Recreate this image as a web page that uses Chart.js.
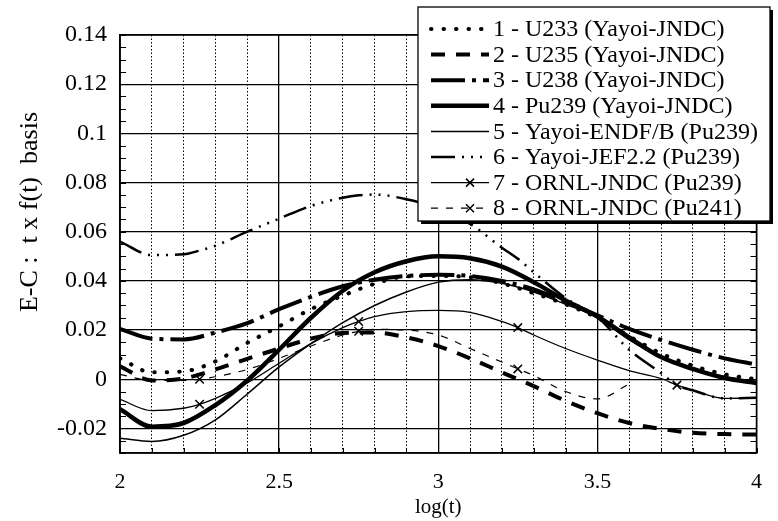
<!DOCTYPE html>
<html>
<head>
<meta charset="utf-8">
<script src="https://cdn.jsdelivr.net/npm/chart.js@4.4.1/dist/chart.umd.min.js"></script>
<style>
  html, body { margin: 0; padding: 0; background: #fff; }
  canvas { display: block; }
</style>
</head>
<body>
<canvas id="chart" width="778" height="521"></canvas>
<script>
// E-C (t x f(t) basis) vs log(t)

const FONT = "'Liberation Serif', 'Times New Roman', serif";

const X = [2.0, 2.1, 2.2, 2.3, 2.4, 2.5, 2.6, 2.7, 2.8, 2.9, 3.0,
           3.1, 3.2, 3.3, 3.4, 3.5, 3.6, 3.7, 3.8, 3.9, 4.0];
// finer grid for the curves that carry markers
const X_MARK = [2.0, 2.1, 2.2, 2.25, 2.3, 2.4, 2.5, 2.6, 2.7, 2.75, 2.8, 2.9, 3.0,
                3.1, 3.2, 3.25, 3.3, 3.4, 3.5, 3.6, 3.7, 3.75, 3.8, 3.9, 4.0];
const MARKS = [2.25, 2.75, 3.25, 3.75];

const LABELS = [
    '1 - U233 (Yayoi-JNDC)',
    '2 - U235 (Yayoi-JNDC)',
    '3 - U238 (Yayoi-JNDC)',
    '4 - Pu239 (Yayoi-JNDC)',
    '5 - Yayoi-ENDF/B (Pu239)',
    '6 - Yayoi-JEF2.2 (Pu239)',
    '7 - ORNL-JNDC (Pu239)',
    '8 - ORNL-JNDC (Pu241)'
];

const U233 = [0.0085, 0.0028, 0.0032, 0.0073, 0.0148, 0.0215, 0.0285, 0.034, 0.0388, 0.0418, 0.042,
              0.0415, 0.039, 0.035, 0.0305, 0.025, 0.0175, 0.0105, 0.0055, 0.002, 0.0];
const U235 = [0.0053, -0.0005, 0.0003, 0.004, 0.0083, 0.0125, 0.0165, 0.0188, 0.019, 0.017, 0.0135,
              0.0085, 0.0028, -0.0028, -0.0088, -0.0138, -0.0178, -0.0202, -0.0218, -0.0223, -0.0225];
const U238 = [0.0205, 0.0165, 0.0162, 0.019, 0.0228, 0.0285, 0.0335, 0.0378, 0.0405, 0.042, 0.0425,
              0.042, 0.04, 0.0365, 0.0315, 0.026, 0.0205, 0.016, 0.012, 0.0085, 0.006];
const PU239 = [-0.0122, -0.0193, -0.0178, -0.0105, -0.0005, 0.012, 0.025, 0.036, 0.0435, 0.048, 0.05,
               0.0492, 0.0458, 0.0395, 0.032, 0.0255, 0.017, 0.009, 0.0042, 0.0005, -0.0015];
const ENDF = [-0.024, -0.0253, -0.0228, -0.0165, -0.006, 0.005, 0.0145, 0.023, 0.03, 0.0355, 0.0395,
              0.0405, 0.039, 0.0355, 0.0305, 0.025, 0.016, 0.009, 0.0045, 0.001, -0.001];
// on X_MARK
const JEF = [0.056, 0.0505, 0.0508, 0.0523, 0.0543, 0.06, 0.0653, 0.0705, 0.0738, 0.0748, 0.0751, 0.0732, 0.0695,
             0.0632, 0.0535, 0.049, 0.0435, 0.033, 0.0253, 0.012, 0.0025, -0.0024, -0.0045, -0.0078, -0.0075];
const ORNL239 = [-0.0082, -0.0128, -0.0118, -0.0102, -0.0078, -0.0015, 0.0065, 0.0145, 0.021, 0.0235, 0.0255, 0.0275, 0.028,
                 0.0272, 0.0235, 0.021, 0.018, 0.0125, 0.0078, 0.0035, 0.0003, -0.0024, -0.0045, -0.0078, -0.0075];
const ORNL241 = [0.002, -0.0005, -0.0005, 0.0, 0.001, 0.004, 0.0085, 0.0135, 0.018, 0.0195, 0.0203, 0.02, 0.018,
                 0.0125, 0.007, 0.0042, 0.0015, -0.005, -0.008, -0.002, null, null, null, null, null];

const Y_MIN = -0.03, Y_MAX = 0.14;

const pts = (xs, ys) => xs.map((x, i) => ({ x: x, y: ys[i] }));
const near = (a, b) => Math.abs(a - b) < 1e-6;
const isMajorX = v => near(v * 2, Math.round(v * 2));
const isMajorY = v => near(v / 0.02, Math.round(v / 0.02));
const markRadius = ctx => (ctx.raw && MARKS.some(m => near(m, ctx.raw.x))) ? 6 : 0;

function line(label, data, width, dash, extra) {
    return Object.assign({
        label: label,
        data: data,
        borderColor: '#000',
        backgroundColor: '#000',
        borderWidth: width,
        borderDash: dash,
        borderCapStyle: 'butt',
        cubicInterpolationMode: 'monotone',
        pointRadius: 0,
        fill: false,
        spanGaps: false
    }, extra || {});
}

const datasets = [
    line(LABELS[0], pts(X, U233), 4, [0.5, 12], { borderCapStyle: 'round' }),
    line(LABELS[1], pts(X, U235), 4, [14, 11]),
    line(LABELS[2], pts(X, U238), 4, [34, 7, 4, 7]),
    line(LABELS[3], pts(X, PU239), 4.5, []),
    line(LABELS[4], pts(X, ENDF), 1.5, []),
    line(LABELS[5], pts(X_MARK, JEF), 2.5, [24, 7, 2, 7, 2, 7, 2, 7]),
    line(LABELS[6], pts(X_MARK, ORNL239), 1.3, [], {
        pointStyle: 'crossRot', pointRadius: markRadius, pointBorderWidth: 1.5, pointBorderColor: '#000'
    }),
    line(LABELS[7], pts(X_MARK, ORNL241), 1.2, [7, 8], {
        pointStyle: 'crossRot', pointRadius: markRadius, pointBorderWidth: 1.5, pointBorderColor: '#000'
    })
];

// inner minor ticks + frame
const decorPlugin = {
    id: 'decor',
    afterDatasetsDraw(chart) {
        const { ctx, chartArea: a, scales: { x, y } } = chart;
        ctx.save();
        ctx.strokeStyle = '#000';
        ctx.lineWidth = 1;
        ctx.beginPath();
        y.ticks.forEach(t => {
            const py = Math.round(y.getPixelForValue(t.value)) + 0.5;
            ctx.moveTo(a.left, py); ctx.lineTo(a.left + 6, py);
            ctx.moveTo(a.right - 6, py); ctx.lineTo(a.right, py);
        });
        x.ticks.forEach(t => {
            const px = Math.round(x.getPixelForValue(t.value)) + 0.5;
            ctx.moveTo(px, a.bottom); ctx.lineTo(px, a.bottom - 5);
        });
        ctx.stroke();
        ctx.lineWidth = 1.5;
        ctx.strokeRect(a.left, a.top, a.width, a.height);

        // y axis title, placed like the original
        ctx.fillStyle = '#000';
        ctx.font = '26px ' + FONT;
        ctx.translate(30, 212);
        ctx.rotate(-Math.PI / 2);
        ctx.textAlign = 'center';
        ctx.textBaseline = 'middle';
        ctx.fillText('E-C :  t x f(t)  basis', 0, 0);
        ctx.restore();
    }
};

// boxed legend in the upper right, overlapping the plot
const legendPlugin = {
    id: 'boxLegend',
    afterDraw(chart) {
        const ctx = chart.ctx;
        const x0 = 418, y0 = 7, w = 352, h = 214;
        ctx.save();
        ctx.fillStyle = '#000';
        ctx.fillRect(x0 + 3, y0 + 3, w, h);
        ctx.fillStyle = '#fff';
        ctx.fillRect(x0, y0, w, h);
        ctx.strokeStyle = '#000';
        ctx.lineWidth = 1.3;
        ctx.strokeRect(x0, y0, w, h);

        ctx.font = '24px ' + FONT;
        ctx.textBaseline = 'middle';
        ctx.textAlign = 'left';
        chart.data.datasets.forEach((ds, i) => {
            const cy = 29 + i * 25.6;
            ctx.setLineDash(ds.borderDash);
            ctx.lineWidth = ds.borderWidth;
            ctx.lineCap = ds.borderCapStyle;
            ctx.beginPath();
            ctx.moveTo(431, cy);
            ctx.lineTo(489, cy);
            ctx.stroke();
            ctx.setLineDash([]);
            ctx.lineCap = 'butt';
            if (ds.pointStyle === 'crossRot') {
                ctx.lineWidth = 1.5;
                ctx.beginPath();
                ctx.moveTo(466, cy - 4); ctx.lineTo(474, cy + 4);
                ctx.moveTo(466, cy + 4); ctx.lineTo(474, cy - 4);
                ctx.stroke();
            }
            ctx.fillStyle = '#000';
            ctx.fillText(ds.label, 493, cy + 1);
        });
        ctx.restore();
    }
};

new Chart(document.getElementById('chart'), {
    type: 'line',
    data: { datasets: datasets },
    options: {
        responsive: false,
        animation: false,
        devicePixelRatio: 1,
        layout: { padding: { top: 35, right: 7, left: 0, bottom: 0 } },
        plugins: {
            legend: { display: false },
            tooltip: { enabled: false }
        },
        scales: {
            x: {
                type: 'linear',
                min: 2,
                max: 4,
                ticks: {
                    stepSize: 0.1,
                    autoSkip: false,
                    maxRotation: 0,
                    padding: 16,
                    color: '#000',
                    font: { family: FONT, size: 22 },
                    callback: v => isMajorX(v) ? String(Number(v.toFixed(1))) : ''
                },
                grid: {
                    color: '#000',
                    lineWidth: ctx => (ctx.tick && isMajorX(ctx.tick.value)) ? 1.3 : 1,
                    drawTicks: false
                },
                border: {
                    display: true,
                    color: '#000',
                    width: 1.5,
                    dash: ctx => (ctx.tick && !isMajorX(ctx.tick.value)) ? [1.5, 2] : []
                },
                title: {
                    display: true,
                    text: 'log(t)',
                    color: '#000',
                    font: { family: FONT, size: 21 },
                    padding: { top: 0, bottom: 1 }
                },
                afterFit: s => { s.height = 68; }
            },
            y: {
                min: Y_MIN,
                max: Y_MAX,
                ticks: {
                    stepSize: 0.005,
                    autoSkip: false,
                    padding: 13,
                    color: '#000',
                    font: { family: FONT, size: 24 },
                    callback: v => {
                        if (!isMajorY(v)) return '';
                        const r = Number(v.toFixed(2));
                        return r === 0 ? '0' : String(r);
                    }
                },
                grid: {
                    color: ctx => (ctx.tick && isMajorY(ctx.tick.value)) ? '#000' : 'rgba(0,0,0,0)',
                    lineWidth: 1.2,
                    drawTicks: false
                },
                border: { display: true, color: '#000', width: 1.5 },
                afterFit: s => { s.width = 120; }
            }
        }
    },
    plugins: [decorPlugin, legendPlugin]
});
</script>
</body>
</html>
